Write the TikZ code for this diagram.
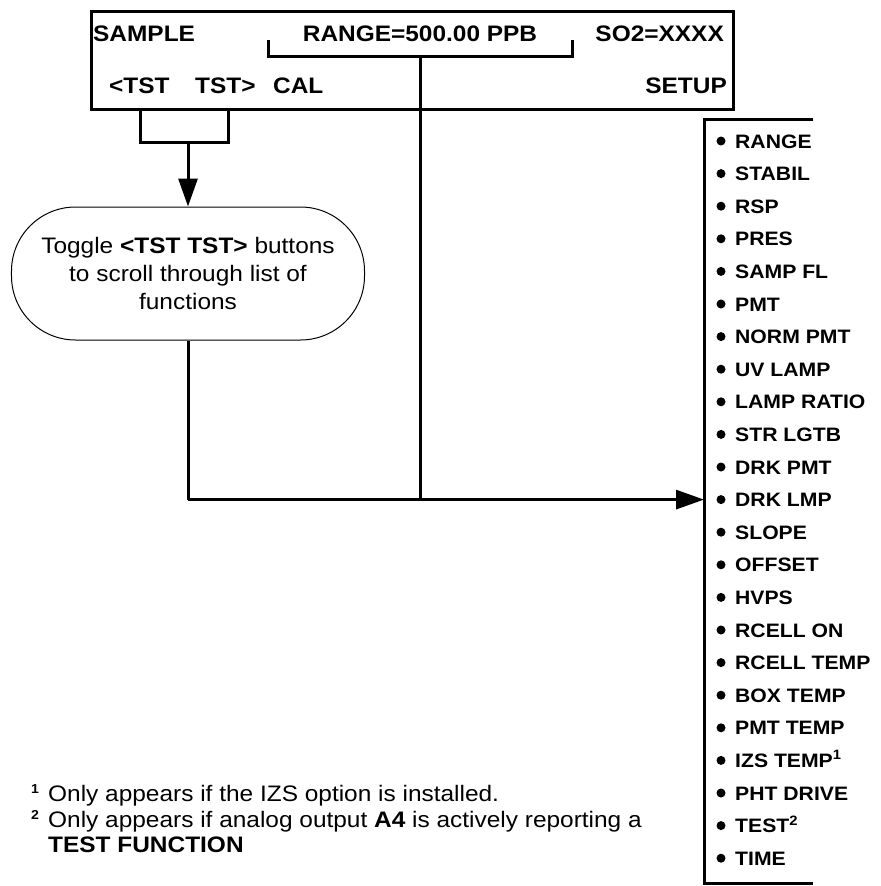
\documentclass[tikz,border=0pt]{standalone}
\usepackage{fontspec}
\setmainfont{Liberation Sans}[FakeStretch=1.09]
\usetikzlibrary{arrows.meta}
\tikzset{
  conn/.style={line width=3bp},
  arr/.style={conn,-{Triangle[length=28bp,width=19bp]}},
  lbl/.style={inner sep=0pt, font=\fontsize{22.5}{27}\selectfont},
  blbl/.style={inner sep=0pt, font=\fontsize{22.5}{27}\selectfont\bfseries},
  suplbl/.style={inner sep=0pt, anchor=base west, font=\fontsize{13}{15}\selectfont\bfseries},
  itemtxt/.style={inner sep=0pt, anchor=base west, font=\fontsize{19.5}{23}\selectfont\bfseries},
  togglebox/.style={draw, line width=1bp, rounded corners=64bp, minimum width=353bp,
    minimum height=133bp, align=center, inner sep=0pt,
    font=\fontsize{22.5}{28.5}\selectfont},
}
\begin{document}
\begin{tikzpicture}[x=1bp,y=-1bp]
\useasboundingbox[fill=white] (0,0) rectangle (881,886);

% display
\node[draw, line width=2.5bp, inner sep=0pt, minimum width=642bp, minimum height=98bp,
  anchor=north west] (disp) at (90,10) {};
\node[blbl, anchor=base west] (sample) at (93,41) {SAMPLE};
\node[blbl, anchor=base] (range) at (420,41) {RANGE=500.00 PPB};
\node[blbl, anchor=base east] (so2) at (724,41) {SO2=XXXX};
\node[blbl, anchor=base west] (tstl) at (109,93) {<TST};
\node[blbl, anchor=base west] (tstr) at (195,93) {TST>};
\node[blbl, anchor=base west] (cal) at (273,93) {CAL};
\node[blbl, anchor=base east] (setup) at (727,93) {SETUP};

% bracket under RANGE
\coordinate (bl) at (268,40);
\coordinate (br) at (572,40);
\coordinate (rb) at (420,56);
\draw[conn] (bl) |- (rb) -| (br);

% TST ticks
\coordinate (tl) at (140,108);
\coordinate (tr) at (228,108);
\coordinate (tm) at (188,142);
\draw[conn] (tl) |- (tm) -| (tr);

% toggle box
\node[togglebox] (toggle) at (188,273.5)
  {Toggle \textbf{<TST TST>} buttons\\to scroll through list of\\functions};
\draw[arr] (tm) -- (tm |- toggle.north);

% list
\node[inner sep=0pt, minimum width=109bp, minimum height=764bp, anchor=north west]
  (list) at (704,119) {};
\draw[conn] (list.north east) -- (list.north west) -- (list.south west) -- (list.south east);
\foreach \t [count=\i from 0] in {RANGE, STABIL, RSP, PRES, SAMP FL, PMT, NORM PMT,
  UV LAMP, LAMP RATIO, STR LGTB, DRK PMT, DRK LMP, SLOPE, OFFSET, HVPS, RCELL ON,
  RCELL TEMP, BOX TEMP, PMT TEMP, IZS TEMP\textsuperscript{1}, PHT DRIVE,
  TEST\textsuperscript{2}, TIME} {
  \pgfmathsetmacro\yy{141+32.6*\i}
  \fill (721,\yy) circle (4.5bp);
  \node[itemtxt] (item\i) at (735,\yy+7) {\t};
}

% connectors to list
\coordinate (jn) at (188,499.6);
\draw[conn] (toggle.south) -- (jn);
\draw[conn] (rb) -- (rb |- jn);
\draw[arr] (jn) -- (jn -| list.west);

% footnotes
\node[suplbl] (s1) at (31,793) {1};
\node[lbl, anchor=base west] (fn1) at (48,801) {Only appears if the IZS option is installed.};
\node[suplbl] (s2) at (31,819) {2};
\node[lbl, anchor=base west] (fn2) at (48,827) {Only appears if analog output \textbf{A4} is actively reporting a};
\node[blbl, anchor=base west] (fn3) at (48,852) {TEST FUNCTION};
\end{tikzpicture}
\end{document}
